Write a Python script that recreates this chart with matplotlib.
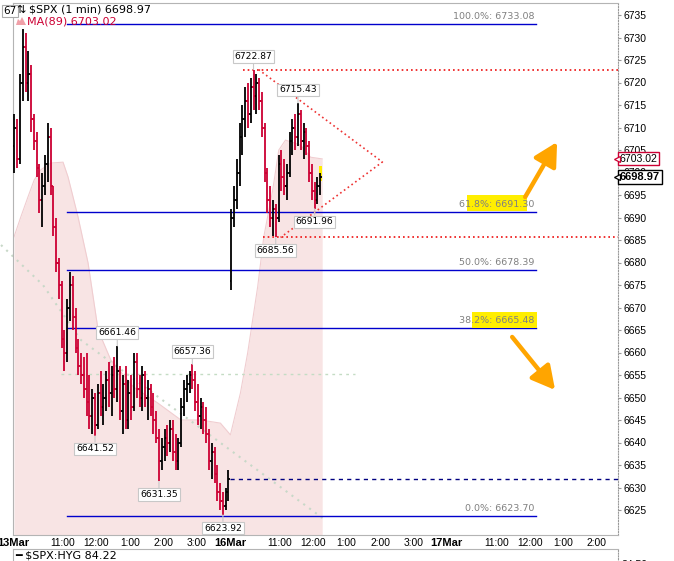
import matplotlib
matplotlib.use("Agg")
import matplotlib.pyplot as plt
import numpy as np
from matplotlib.collections import LineCollection
from matplotlib.patches import Rectangle, Polygon

# 5-min OHLC, 13 Mar (full session)
mar13_open = [6706, 6710, 6703, 6720, 6728, 6720, 6722, 6712, 6707, 6701,
              6694, 6697, 6702, 6708, 6697, 6688, 6680, 6675, 6663, 6660,
              6670, 6675, 6668, 6661, 6657, 6655, 6652, 6649, 6646, 6650,
              6644, 6651, 6648, 6650, 6654, 6651, 6655, 6652, 6656, 6647,
              6653, 6645, 6651, 6648, 6658, 6652, 6650, 6655, 6650, 6652,
              6648, 6645, 6641, 6636, 6639, 6641, 6640, 6643, 6638, 6636,
              6640, 6648, 6652, 6653, 6655, 6654, 6649, 6646, 6648, 6645,
              6642, 6636, 6638, 6633, 6629, 6627, 6626, 6629]
mar13_high = [6713, 6712, 6722, 6732, 6731, 6727, 6724, 6713, 6709, 6702,
              6700, 6704, 6711, 6710, 6697, 6690, 6681, 6676, 6665, 6672,
              6678, 6677, 6670, 6663, 6660, 6659, 6660, 6655, 6652, 6651,
              6653, 6656, 6653, 6656, 6658, 6657, 6659, 6661.46, 6657, 6655,
              6657, 6654, 6655, 6660, 6660, 6655, 6657, 6656, 6654, 6653,
              6651, 6647, 6643, 6641, 6643, 6644, 6645, 6645, 6642, 6641,
              6650, 6654, 6655, 6656, 6657.36, 6656, 6653, 6650, 6649, 6648,
              6643, 6640, 6639, 6635, 6631, 6629, 6630, 6634]
mar13_low = [6700, 6701, 6702, 6716, 6718, 6716, 6709, 6705, 6699, 6691,
             6688, 6695, 6698, 6695, 6686, 6678, 6672, 6661, 6656, 6658,
             6667, 6665, 6660, 6655, 6653, 6650, 6646, 6643, 6642, 6641.52,
             6643, 6646, 6644, 6647, 6648, 6646, 6650, 6649, 6645, 6642,
             6643, 6643, 6645, 6647, 6650, 6648, 6647, 6648, 6645, 6646,
             6642, 6640, 6631.35, 6634, 6636, 6637, 6638, 6636, 6634, 6634,
             6639, 6646, 6649, 6651, 6652, 6647, 6644, 6643, 6642, 6640,
             6634, 6632, 6631, 6627, 6625, 6623.92, 6625, 6627]
mar13_close = [6710, 6703, 6720, 6728, 6720, 6722, 6712, 6707, 6701, 6694,
               6697, 6702, 6708, 6697, 6688, 6680, 6675, 6663, 6660, 6670,
               6675, 6668, 6661, 6657, 6655, 6652, 6649, 6646, 6650, 6644,
               6651, 6648, 6650, 6654, 6651, 6655, 6652, 6656, 6647, 6653,
               6645, 6651, 6648, 6658, 6652, 6650, 6655, 6650, 6652, 6648,
               6645, 6641, 6636, 6639, 6641, 6640, 6643, 6638, 6636, 6640,
               6648, 6652, 6653, 6655, 6654, 6649, 6646, 6648, 6645, 6642,
               6636, 6638, 6633, 6629, 6627, 6626, 6629, 6632]

# 16 Mar, up to ~12:15
mar16_open = [6676, 6690, 6694, 6700, 6708, 6712, 6716, 6713, 6719, 6717,
              6720, 6716, 6710, 6700, 6694, 6690, 6692, 6690, 6702, 6699,
              6697, 6700, 6707, 6710, 6708, 6713, 6707, 6709, 6706, 6700,
              6696, 6694, 6697]
mar16_high = [6692, 6697, 6703, 6711, 6715, 6719, 6720, 6721, 6722.87, 6722,
              6721, 6718, 6711, 6701, 6697, 6694, 6693, 6704, 6705, 6703,
              6702, 6709, 6712, 6713, 6715.43, 6714, 6711, 6710, 6707, 6702,
              6698, 6699, 6700]
mar16_low = [6674, 6688, 6692, 6697, 6704, 6708, 6710, 6711, 6714, 6713,
             6714, 6708, 6698, 6691, 6688, 6686, 6685.56, 6689, 6696, 6695,
             6694, 6699, 6704, 6705, 6706, 6705, 6703, 6704, 6698, 6694,
             6691.96, 6693, 6695]
mar16_close = [6690, 6694, 6700, 6708, 6712, 6716, 6713, 6719, 6717, 6720,
               6716, 6710, 6700, 6694, 6690, 6692, 6690, 6702, 6699, 6697,
               6700, 6707, 6710, 6708, 6713, 6707, 6709, 6706, 6700, 6696,
               6694, 6697, 6698.97]

# MA(89) outline (trading minutes from 13 Mar 9:30, value)
ma_t = [1.8, 14, 27, 38, 50, 68, 90, 99, 117, 135, 153, 176, 217, 260, 302,
        338, 373, 391, 409, 422, 440, 451, 467, 478, 490, 517, 535, 556]
ma_val = [6685.7, 6690.1, 6694.6, 6698.3, 6700.6, 6702.1, 6702.3, 6699.0,
          6690.1, 6679.9, 6665.0, 6658.3, 6652.3, 6648.8, 6645.0, 6645.0,
          6644.3, 6641.7, 6651.0, 6659.9, 6674.6, 6685.7, 6696.1, 6705.0,
          6707.2, 6706.1, 6703.4, 6703.02]

fib_pct = ["100.0%", "61.8%", "50.0%", "38.2%", "0.0%"]
fib_lvl = [6733.08, 6691.30, 6678.39, 6665.48, 6623.70]

pivot_hi = [6722.87, 6715.43, 6661.46, 6657.36]
pivot_lo = [6685.56, 6691.96, 6641.52, 6631.35, 6623.92]

tick_m = [0, 90, 150, 210, 270, 330, 390, 480, 540, 600, 660, 720, 780,
          870, 930, 990, 1050]
tick_lbl = ["13Mar", "11:00", "12:00", "1:00", "2:00", "3:00", "16Mar",
            "11:00", "12:00", "1:00", "2:00", "3:00", "17Mar", "11:00",
            "12:00", "1:00", "2:00"]

last_px = 6698.97
ma_last = 6703.02

W, H = 674, 561
PXM = 0.557  # screen px per trading minute


def xm(px):
    return (px - 12) / PXM


def yp(py):
    return 6735 - (py - 15) / 4.5


RED = "#cc0033"
plt.rcParams["font.family"] = ["DejaVu Sans"]

fig = plt.figure(figsize=(W / 100, H / 100), dpi=100)
ax = fig.add_axes([13 / W, (H - 535) / H, 605 / W, 532 / H])
ax.set_xlim(xm(13), xm(618))
ax.set_ylim(yp(535), yp(3))

# bars
t = np.concatenate([np.arange(len(mar13_close)) * 5 + 2.5,
                    np.arange(len(mar16_close)) * 5 + 392.5])
o = np.array(mar13_open + mar16_open)
hi = np.array(mar13_high + mar16_high)
lo = np.array(mar13_low + mar16_low)
c = np.array(mar13_close + mar16_close)
tk = 2.6
segs, cols = [], []
for ti, oi, hv, lv, ci in zip(t, o, hi, lo, c):
    col = RED if ci < oi else "black"
    segs += [[(ti, lv), (ti, hv)], [(ti - tk, oi), (ti, oi)], [(ti, ci), (ti + tk, ci)]]
    cols += [col] * 3
ax.add_collection(LineCollection(segs, colors=cols, linewidths=1.3, zorder=4))

# MA area
ax.fill_between(ma_t, yp(535), ma_val, color="#f8e4e4", lw=0, zorder=1)
ax.plot(ma_t, ma_val, color="#f0cdd0", lw=0.8, zorder=1)

# fib retracement
for pct, lvl in zip(fib_pct, fib_lvl):
    ax.plot([xm(66), xm(536)], [lvl, lvl], color="#0000cc", lw=1, zorder=3)
    ax.text(xm(534), lvl + 1.55, f"{pct}: {lvl:.2f}", ha="right", va="center",
            color="#808080", fontsize=6.8, zorder=6)
ax.add_patch(Rectangle((xm(467), fib_lvl[1] + 0.1), xm(527) - xm(467), 3.6,
                       fc="#ffee00", ec="none", zorder=5))
ax.add_patch(Rectangle((xm(472), fib_lvl[3]), xm(537) - xm(472), 3.6,
                       fc="#ffee00", ec="none", zorder=5))

# guide lines
dots = (0, (1, 1.8))
ax.plot([xm(242), xm(618)], [pivot_hi[0]] * 2, color="#ee1111", ls=dots, lw=1.2, zorder=3)
ax.plot([xm(262), xm(618)], [pivot_lo[0]] * 2, color="#ee1111", ls=dots, lw=1.2, zorder=3)
ax.plot([xm(258), xm(382), xm(280)], [pivot_hi[0], yp(162), pivot_lo[0]],
        color="#ee3333", ls=dots, lw=1.2, zorder=3)
ax.plot([xm(229), xm(618)], [mar13_close[-1]] * 2, color="#000080",
        ls=(0, (3, 3)), lw=1, zorder=3)
ax.plot([xm(60), xm(355)], [yp(374)] * 2, color="#c4dcc4", ls=(0, (2, 3)), lw=1, zorder=2)
ax.plot([xm(0), xm(42), xm(80), xm(322)], [yp(245), yp(285), yp(340), yp(518)],
        color="#c8d8c8", ls=(0, (1, 2.5)), lw=1.5, zorder=2, clip_on=False)

# orange arrows
for (x0, y0), (x1, y1) in [((525, 197), (557, 142)), ((512, 337), (555, 390))]:
    ax.annotate("", xy=(xm(x1), yp(y1)), xytext=(xm(x0), yp(y0)),
                arrowprops=dict(arrowstyle="-|>,head_length=1.4,head_width=0.75",
                                color="#ffa500", lw=3.2, shrinkA=0, shrinkB=0),
                zorder=7)

# last bar highlight
ax.add_patch(Rectangle((t[-1] - 2, 6698.2), 6, 3.2, fc="#ffee00", ec="none", zorder=3))

# pivot labels
box = dict(boxstyle="square,pad=0.2", fc="white", ec="#c8c8c8", lw=0.8)
for v in pivot_hi:
    i = int(np.argmin(np.abs(hi - v)))
    ax.annotate(f"{v:.2f}", xy=(t[i], v), xytext=(0, 9.5), textcoords="offset points",
                ha="center", va="center", fontsize=6.6, bbox=box, zorder=8,
                arrowprops=dict(arrowstyle="-", color="#c8c8c8", lw=0.8, shrinkA=0, shrinkB=0))
for v in pivot_lo:
    i = int(np.argmin(np.abs(lo - v)))
    ax.annotate(f"{v:.2f}", xy=(t[i], v), xytext=(0, -9.5), textcoords="offset points",
                ha="center", va="center", fontsize=6.6, bbox=box, zorder=8,
                arrowprops=dict(arrowstyle="-", color="#c8c8c8", lw=0.8, shrinkA=0, shrinkB=0))

# axes styling
for s in ["left", "top", "bottom"]:
    ax.spines[s].set_color("#b4b4b4")
ax.spines["right"].set_color("#999999")
ax.spines["right"].set_linestyle((0, (1, 1.5)))
ax.yaxis.tick_right()
ax.set_yticks(np.arange(6625, 6736, 5))
ax.tick_params(axis="y", length=2, pad=2, colors="#999999", labelcolor="black",
               labelsize=7.5, labelfontfamily="Liberation Sans")
ax.set_xticks(tick_m)
ax.set_xticklabels(tick_lbl)
ax.tick_params(axis="x", length=0, pad=2.5, labelsize=7.4, labelfontfamily="Liberation Sans")
for lab in ax.get_xticklabels():
    if "Mar" in lab.get_text():
        lab.set_fontweight("bold")
        lab.set_fontsize(8)

# price tags on the right
ax.text(xm(620), ma_last, f"{ma_last:.2f}", ha="left", va="center", fontsize=7.6,
        family="Liberation Sans", clip_on=False, zorder=10,
        bbox=dict(boxstyle="square,pad=0.15", fc="white", ec=RED, lw=1))
ax.text(xm(620), last_px, f"{last_px:.2f}", ha="left", va="center", fontsize=8,
        fontweight="bold", family="Liberation Sans", clip_on=False, zorder=10,
        bbox=dict(boxstyle="square,pad=0.15", fc="white", ec="black", lw=1))
ax.plot([xm(616.5)], [ma_last], marker="<", ms=4, mfc="white", mec=RED, mew=0.9,
        clip_on=False, zorder=11)
ax.plot([xm(616.5)], [last_px], marker="<", ms=4, mfc="white", mec="black", mew=0.9,
        clip_on=False, zorder=11)

# header
fig.text(3.5 / W, 1 - 11 / H, "67", fontsize=7.5, va="center",
         bbox=dict(boxstyle="square,pad=0.12", fc="white", ec="#aaaaaa", lw=0.8))
fig.text(16.5 / W, 1 - 10 / H, "⇅", fontsize=8, va="center")
fig.text(28.5 / W, 1 - 10 / H, r"\$SPX (1 min) 6698.97", fontsize=8, va="center")
fig.patches.append(Polygon([(16 / W, 1 - 25 / H), (18 / W, 1 - 19 / H), (20 / W, 1 - 21 / H),
                            (22 / W, 1 - 17 / H), (26 / W, 1 - 25 / H)],
                           closed=True, transform=fig.transFigure, fc="#f0a0a8", ec="none"))
fig.text(27 / W, 1 - 22 / H, f"MA(89) {ma_last:.2f}", fontsize=8, va="center", color=RED)

# lower panel
ax2 = fig.add_axes([13 / W, -0.05, 605 / W, 0.05 + (H - 549) / H])
ax2.set_xticks([])
ax2.set_yticks([])
for s in ["left", "top"]:
    ax2.spines[s].set_color("#b4b4b4")
ax2.spines["right"].set_color("#999999")
ax2.spines["right"].set_linestyle((0, (1, 1.5)))
fig.text(15 / W, 1 - 556 / H, r"━ \$SPX:HYG 84.22", fontsize=8, va="center")
fig.text(622 / W, 1 - 565 / H, "84.50", fontsize=7.5, va="center", family="Liberation Sans")

fig.savefig("out.png", dpi=100)
